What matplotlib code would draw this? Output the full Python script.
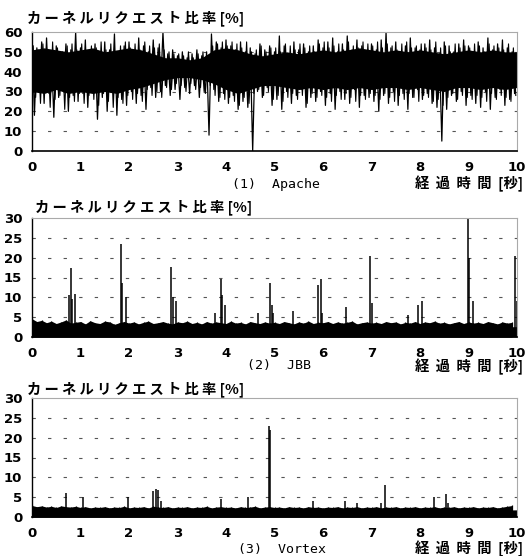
import numpy as np
import matplotlib
matplotlib.use("Agg")
import matplotlib.pyplot as plt

plt.rcParams['font.family'] = ['Noto Sans CJK JP', 'DejaVu Sans']

# ---- data ----
# Apache: per 0.1 s, upper peak and (0.05 s later) lower trough of the trace
apache_hi = [60, 52, 55, 57, 50, 53, 49, 54, 51, 60,
             52, 56, 50, 54, 48, 55, 51, 59, 50, 53,
             55, 51, 57, 53, 50, 56, 52, 60, 49, 51,
             48, 50, 47, 49, 51, 48, 50, 59, 55, 52,
             56, 53, 51, 55, 50, 52, 49, 54, 51, 53,
             50, 58, 53, 49, 55, 51, 54, 50, 53, 56,
             52, 55, 57, 50, 54, 58, 51, 56, 53, 50,
             54, 51, 56, 60, 52, 55, 50, 53, 57, 52,
             51, 54, 56, 52, 49, 55, 53, 50, 54, 56,
             53, 50, 55, 52, 57, 51, 54, 56, 52, 50]
apache_lo = [18, 31, 24, 29, 17, 27, 33, 20, 28, 25,
             29, 22, 31, 16, 27, 20, 30, 18, 26, 23,
             30, 24, 28, 21, 32, 27, 30, 33, 28, 31,
             26, 32, 29, 33, 27, 30, 8, 31, 25, 29,
             24, 28, 21, 25, 22, 0, 30, 27, 32, 23,
             26, 21, 30, 24, 28, 31, 22, 27, 25, 30,
             23, 29, 21, 30, 26, 24, 31, 22, 28, 27,
             25, 20, 28, 24, 30, 23, 29, 21, 27, 31,
             26, 29, 24, 22, 5, 21, 28, 25, 30, 23,
             28, 24, 22, 30, 21, 27, 31, 23, 26, 29]
# second set of samples in between (t + 0.025 s peak, t + 0.075 s trough)
apache_hi2 = [53, 51, 54, 50, 55, 52, 50, 53, 54, 51,
              54, 50, 53, 52, 55, 51, 54, 50, 53, 55,
              52, 54, 51, 55, 53, 52, 54, 51, 50, 49,
              49, 48, 50, 47, 49, 50, 48, 53, 54, 55,
              53, 55, 54, 52, 55, 50, 51, 53, 50, 52,
              52, 50, 54, 53, 51, 54, 52, 53, 50, 54,
              55, 52, 53, 54, 51, 55, 53, 52, 55, 54,
              53, 55, 52, 54, 53, 51, 54, 55, 52, 53,
              54, 52, 51, 55, 52, 53, 50, 54, 52, 53,
              52, 54, 53, 50, 54, 53, 52, 51, 54, 52]
apache_lo2 = [27, 24, 30, 22, 26, 28, 21, 27, 25, 29,
              24, 28, 26, 23, 29, 25, 22, 27, 24, 28,
              26, 29, 25, 31, 28, 30, 27, 32, 31, 34,
              33, 30, 34, 31, 32, 29, 33, 28, 27, 26,
              27, 25, 23, 27, 24, 29, 31, 28, 30, 26,
              28, 25, 27, 29, 26, 28, 24, 29, 27, 28,
              27, 25, 28, 26, 29, 27, 25, 28, 26, 29,
              28, 26, 29, 27, 25, 28, 26, 29, 27, 25,
              28, 27, 25, 26, 23, 27, 29, 26, 28, 27,
              26, 28, 27, 25, 29, 26, 28, 27, 25, 28]
# solid core of the Apache band, per 0.25 s
apache_core_lo = [30, 29, 31, 29, 30, 29, 30, 29, 31, 32, 34, 36, 37, 37,
                  36, 34, 31, 29, 31, 33, 33, 32, 31, 32, 31, 32, 31, 32,
                  31, 32, 32, 31, 32, 31, 30, 32, 32, 31, 32, 31, 32]
apache_core_hi = [51, 52, 51, 50, 51, 52, 50, 51, 52, 51, 49, 47, 47, 46,
                  47, 51, 52, 51, 49, 48, 49, 50, 49, 50, 51, 50, 51, 52,
                  51, 50, 51, 50, 51, 50, 49, 50, 51, 50, 51, 50, 50]

# JBB: baseline noise per 0.1 s, solid floor per 1 s, and spikes
jbb_noise = [4.6, 3.9, 4.2, 3.6, 4.0, 3.4, 3.8, 4.3, 3.5, 3.7,
             3.9, 3.3, 4.1, 3.6, 3.4, 4.0, 3.8, 3.2, 3.6, 3.9,
             3.5, 3.8, 3.3, 3.7, 4.0, 3.4, 3.6, 3.9, 3.5, 3.3,
             3.8, 3.6, 4.0, 3.4, 3.7, 3.3, 3.9, 3.5, 3.8, 3.6,
             3.4, 4.0, 3.5, 3.7, 3.3, 3.9, 3.6, 3.4, 3.8, 3.5,
             3.7, 3.4, 3.9, 3.6, 3.3, 3.8, 3.5, 4.0, 3.4, 3.7,
             3.6, 3.9, 3.4, 3.8, 3.5, 3.7, 4.0, 3.3, 3.6, 3.8,
             3.5, 3.7, 3.4, 3.9, 3.6, 3.8, 3.3, 3.7, 3.5, 3.9,
             3.4, 3.8, 3.6, 4.0, 3.5, 3.7, 3.3, 3.6, 3.9, 3.4,
             3.8, 3.5, 3.7, 3.4, 3.9, 3.6, 3.3, 3.8, 3.5, 3.7]
jbb_floor = [2.7, 2.6, 2.6, 2.5, 2.6, 2.5, 2.6, 2.5, 2.6, 2.5, 2.6]
jbb_spike_t = [0.77, 0.81, 0.83, 0.88, 1.83, 1.85, 1.93, 2.86, 2.90, 2.97,
               3.78, 3.90, 3.92, 3.98, 4.65, 4.90, 4.95, 4.97, 5.38, 5.90,
               5.95, 5.97, 6.48, 6.96, 7.01, 7.75, 7.96, 8.05, 8.99, 9.01,
               9.09, 9.96, 9.99]
jbb_spike_v = [10.5, 17.5, 9.5, 10.8, 23.5, 13.5, 10.0, 17.7, 10.0, 9.0,
               6.0, 14.5, 10.5, 8.0, 6.0, 13.5, 8.0, 6.0, 6.5, 13.0,
               14.5, 6.0, 7.5, 20.5, 8.5, 5.5, 8.0, 9.0, 30.0, 20.0,
               9.0, 20.5, 9.0]

# Vortex
vortex_noise = [2.9, 2.6, 2.8, 2.5, 2.7, 2.4, 2.8, 2.6, 2.5, 2.7,
                2.4, 2.6, 2.3, 2.5, 2.4, 2.6, 2.3, 2.5, 2.4, 2.7,
                2.3, 2.5, 2.4, 2.6, 2.3, 2.7, 2.5, 2.4, 2.6, 2.3,
                2.5, 2.4, 2.6, 2.3, 2.5, 2.4, 2.7, 2.3, 2.5, 2.6,
                2.4, 2.5, 2.3, 2.6, 2.4, 2.5, 2.7, 2.3, 2.5, 2.6,
                2.4, 2.5, 2.3, 2.6, 2.4, 2.5, 2.3, 2.6, 2.4, 2.5,
                2.3, 2.5, 2.4, 2.6, 2.3, 2.5, 2.4, 2.6, 2.3, 2.5,
                2.4, 2.6, 2.3, 2.5, 2.4, 2.6, 2.3, 2.5, 2.4, 2.6,
                2.3, 2.5, 2.4, 2.6, 2.3, 2.5, 2.4, 2.6, 2.3, 2.5,
                2.4, 2.6, 2.3, 2.5, 2.4, 2.6, 2.3, 2.5, 2.7, 2.9]
vortex_floor = [1.9, 1.8, 1.8, 1.7, 1.8, 1.7, 1.8, 1.7, 1.8, 1.7, 1.8]
vortex_spike_t = [0.70, 1.05, 1.98, 2.50, 2.56, 2.60, 2.65, 3.90, 4.45, 4.88,
                  4.91, 5.80, 6.45, 6.70, 7.20, 7.27, 8.28, 8.53, 8.58]
vortex_spike_v = [6.0, 5.0, 5.0, 6.5, 7.0, 6.8, 4.0, 4.5, 5.0, 23.0,
                  22.0, 4.0, 4.0, 3.5, 3.5, 8.0, 5.0, 5.8, 3.5]

title = "カーネルリクエスト比率[%]"
xlabel = "経過時間[秒]"
names = ["(1)  Apache", "(2)  JBB", "(3)  Vortex"]
x_ticks = list(range(11))

W, H = 527, 556
fig = plt.figure(figsize=(W / 100, H / 100), dpi=100)


def px(x, y):
    return x / W, 1 - y / H


def make_axes(top, bottom, ymax, ystep):
    ax = fig.add_axes([32 / W, 1 - bottom / H, 485 / W, (bottom - top) / H])
    ax.set_xlim(0, 10)
    ax.set_ylim(0, ymax)
    ax.set_yticks(np.arange(0, ymax + 1, ystep))
    ax.set_xticks(x_ticks)
    ax.tick_params(length=0, pad=7, labelsize=9.5)
    for lab in ax.get_xticklabels() + ax.get_yticklabels():
        lab.set_fontweight('bold')
        lab.set_family('DejaVu Sans')
    for yv in np.arange(ystep, ymax, ystep):
        ax.axhline(yv, color='#555555', lw=0.8, ls=(0, (3, 11)), zorder=0)
    ax.spines['left'].set_color('black')
    ax.spines['bottom'].set_color('black')
    ax.spines['left'].set_linewidth(1.0)
    ax.spines['bottom'].set_linewidth(1.2)
    for s in ('top', 'right'):
        ax.spines[s].set_color('#aaaaaa')
        ax.spines[s].set_linewidth(0.8)
    return ax


def zigzag(ax, t0, peaks, troughs, lw):
    # peak at t0, trough half a step later
    xs = np.ravel(np.column_stack([t0, t0 + 0.05]))
    ys = np.ravel(np.column_stack([peaks, troughs]))
    ax.plot(xs, ys, color='black', lw=lw)


def baseline(ax, noise, floor, spike_t, spike_v):
    tn = np.arange(len(noise)) * 0.1
    tf = np.arange(len(floor)) * 1.0
    ax.fill_between(tf, 0, floor, color='black', lw=0)
    ax.fill_between(tn, 0, noise, color='black', lw=0)
    ax.vlines(tn, 0, noise, color='black', lw=0.9)
    ax.vlines(spike_t, 0, spike_v, color='black', lw=1.1)


# panel 1 : Apache
ax1 = make_axes(32, 151, 60, 10)
t = np.arange(len(apache_hi)) * 0.1
tc = np.arange(len(apache_core_lo)) * 0.25
ax1.fill_between(tc, apache_core_lo, apache_core_hi, color='black', lw=0)
zigzag(ax1, t + 0.025, apache_hi2, apache_lo2, 0.8)
zigzag(ax1, t, apache_hi, apache_lo, 0.9)

# panel 2 : JBB
ax2 = make_axes(218, 337, 30, 5)
baseline(ax2, jbb_noise, jbb_floor, jbb_spike_t, jbb_spike_v)

# panel 3 : Vortex
ax3 = make_axes(398, 517, 30, 5)
baseline(ax3, vortex_noise, vortex_floor, vortex_spike_t, vortex_spike_v)

# titles and labels
spaced_title = " ".join(title[:-3]) + " " + title[-3:]
for (x, y) in [(27, 18), (35, 207), (27, 389)]:
    fig.text(*px(x, y), spaced_title, fontsize=10.3, va='center', ha='left',
             fontweight='bold')
for name, (x, y) in zip(names, [(232, 185), (247, 366), (238, 550)]):
    fig.text(*px(x, y), name, fontsize=9.5, va='center', ha='left',
             family=['DejaVu Sans Mono'])
spaced_xlabel = "  ".join(xlabel[:4]) + "  " + xlabel[4:]
for (x, y) in [(523, 184), (523, 367), (523, 549)]:
    fig.text(*px(x, y), spaced_xlabel, fontsize=10.3, va='center', ha='right',
             fontweight='bold')

fig.savefig("out.png", dpi=100)
